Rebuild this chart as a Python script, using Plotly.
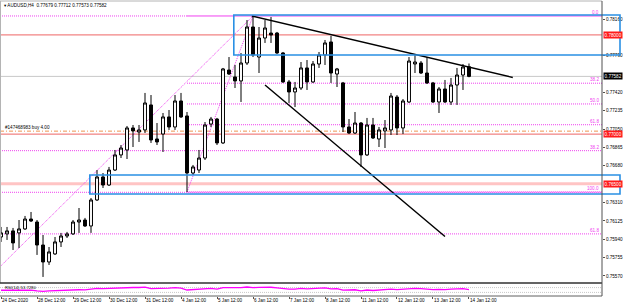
import plotly.graph_objects as go

W, H = 625, 304

# ---------------- data ----------------
bars = list(range(79))
opens = [0.75963,0.75994,0.76024,0.76004,0.76044,0.76144,0.76114,0.75882,0.75711,0.75792,
         0.75913,0.75973,0.75994,0.76114,0.76134,0.76074,0.76336,0.76568,0.76487,0.76638,
         0.76790,0.76840,0.77062,0.77021,0.77042,0.77294,0.76951,0.77001,0.77173,0.77072,
         0.77334,0.77183,0.76608,0.76638,0.76759,0.77102,0.77152,0.76911,0.77646,0.77576,
         0.77536,0.77717,0.78080,0.77777,0.77969,0.78019,0.78019,0.77818,0.77526,0.77425,
         0.77465,0.77667,0.77526,0.77707,0.77798,0.77929,0.77606,0.77516,0.77072,0.77011,
         0.77112,0.76790,0.77092,0.76951,0.77032,0.77042,0.77374,0.77062,0.77324,0.77707,
         0.77717,0.77616,0.77516,0.77324,0.77455,0.77324,0.77495,0.77596,0.77679]
highs = [0.76064,0.76064,0.76054,0.76134,0.76175,0.76215,0.76134,0.75983,0.75862,0.75963,
         0.76004,0.76014,0.76134,0.76255,0.76155,0.76356,0.76638,0.76608,0.76669,0.76840,
         0.76890,0.77082,0.77092,0.77092,0.77415,0.77394,0.77112,0.77213,0.77243,0.77394,
         0.77415,0.77223,0.76689,0.76840,0.77122,0.77173,0.77163,0.77667,0.77777,0.77697,
         0.77818,0.78150,0.78191,0.78080,0.78150,0.78181,0.78030,0.77828,0.77546,0.77526,
         0.77727,0.77747,0.77737,0.77828,0.77949,0.77989,0.77667,0.77526,0.77152,0.77223,
         0.77122,0.77163,0.77163,0.77072,0.77142,0.77415,0.77394,0.77354,0.77777,0.77798,
         0.77737,0.77777,0.77526,0.77475,0.77546,0.77566,0.77667,0.77707,0.77712]
lows = [0.75913,0.75933,0.75832,0.75852,0.76034,0.76114,0.75782,0.75560,0.75681,0.75782,
        0.75862,0.75953,0.75983,0.76004,0.76064,0.76004,0.76326,0.76457,0.76477,0.76628,
        0.76759,0.76749,0.76870,0.76921,0.77011,0.76911,0.76890,0.76820,0.77042,0.77042,
        0.77163,0.76417,0.76588,0.76608,0.76739,0.77072,0.76890,0.76900,0.77596,0.77465,
        0.77324,0.77697,0.77777,0.77616,0.77919,0.77919,0.77808,0.77516,0.77314,0.77273,
        0.77445,0.77445,0.77516,0.77667,0.77697,0.77516,0.77475,0.77021,0.77001,0.77001,
        0.76669,0.76780,0.76951,0.76870,0.76860,0.76991,0.76991,0.77001,0.77314,0.77616,
        0.77606,0.77505,0.77314,0.77213,0.77314,0.77294,0.77294,0.77445,0.77573]
closes = [0.76004,0.76024,0.75903,0.76044,0.76144,0.76124,0.75882,0.75711,0.75812,0.75913,
          0.75973,0.75994,0.76114,0.76134,0.76074,0.76336,0.76568,0.76487,0.76638,0.76790,
          0.76860,0.77062,0.77032,0.77042,0.77314,0.76941,0.76921,0.77173,0.77072,0.77334,
          0.77173,0.76608,0.76669,0.76759,0.77092,0.77152,0.76911,0.77657,0.77606,0.77536,
          0.77717,0.78080,0.77798,0.77969,0.78070,0.77999,0.77818,0.77526,0.77425,0.77465,
          0.77667,0.77526,0.77707,0.77798,0.77919,0.77616,0.77657,0.77072,0.77011,0.77112,
          0.76790,0.77092,0.76961,0.77042,0.77062,0.77384,0.77062,0.77334,0.77737,0.77727,
          0.77616,0.77516,0.77324,0.77455,0.77324,0.77495,0.77596,0.77677,0.77582]
rsi = [48,49,45,47,50,49,42,38,42,45,
       47,48,52,52,51,58,63,61,64,67,
       68,72,71,71,74,62,61,66,65,69,
       66,50,52,55,62,63,58,70,69,67,
       69,75,70,72,74,73,67,60,57,58,
       63,59,63,65,68,60,62,49,48,52,
       42,50,46,49,50,58,53,57,63,64,
       62,58,53,56,53,57,60,62,54]

time_labels = ["24 Dec 2020","28 Dec 12:00","29 Dec 12:00","30 Dec 12:00","31 Dec 12:00",
               "4 Jan 12:00","5 Jan 12:00","6 Jan 12:00","7 Jan 12:00","8 Jan 12:00",
               "11 Jan 12:00","12 Jan 12:00","13 Jan 12:00","14 Jan 12:00"]
time_label_bars = [0,6,12,18,24,30,36,42,48,54,60,66,72,78]

price_ticks = [0.75570,0.75755,0.75940,0.76125,0.76310,0.76680,0.76865,0.77050,
               0.77235,0.77420,0.77790,0.78160]

header = "AUDUSD,H4  0.77679 0.77712 0.77573 0.77582"
bid = 0.77582
round_levels = [0.78000, 0.77000]
support_level = 0.76500
order_price = 0.77030
order_text = "#147468983 buy 4.00"
rsi_text = "RSI(14) 53.7280"

# Fibonacci objects: (low bar, low price, high bar, high price)
fib_levels = [0.0, 38.2, 50.0, 61.8, 100.0]
fib1 = dict(b0=-17.3, p0=0.74636, b1=42, p1=0.78191, labels=[38.2, 61.8])
fib2 = dict(b0=31, p0=0.76417, b1=42, p1=0.78191, labels=[0.0, 38.2, 50.0, 61.8, 100.0])

# trend lines (bar, price)
trend_upper = [(41.8, 0.78191), (85.3, 0.77571)]
trend_lower = [(44.0, 0.77495), (74.0, 0.75967)]

# rectangles (bar start, price top, price bottom)
rect_zones = [(38.8, 0.78201, 0.77798), (14.8, 0.76588, 0.76396)]

# ---------------- layout helpers ----------------
XR = [-0.17, 100.17]
YR = [0.75499, 0.78342]
PLOT_R = 602 / W
FONT = "Liberation Sans, Arial, DejaVu Sans"
FS = 4.6
MAG = "#F040F0"
DOT = "1px,1px"

def py(px):
    return (H - px) / H

fig = go.Figure()
fig.add_trace(go.Candlestick(
    x=bars, open=opens, high=highs, low=lows, close=closes,
    increasing=dict(line=dict(color="black", width=1), fillcolor="white"),
    decreasing=dict(line=dict(color="black", width=1), fillcolor="black"),
    whiskerwidth=0, hoverinfo="skip", showlegend=False, xaxis="x", yaxis="y"))
fig.add_trace(go.Scatter(x=bars, y=rsi, mode="lines",
    line=dict(color="#FF00FF", width=1.3), hoverinfo="skip",
    showlegend=False, xaxis="x2", yaxis="y2"))

shapes = []
ann = []

# horizontal levels
shapes.append(dict(type="line", xref="x domain", yref="y", x0=0, x1=1, y0=bid, y1=bid,
                   line=dict(color="#C8C8C8", width=1), layer="below"))
shapes.append(dict(type="line", xref="x domain", yref="y", x0=0, x1=1,
                   y0=support_level, y1=support_level,
                   line=dict(color="#FFC4C4", width=3), layer="below"))
for lv in round_levels:
    shapes.append(dict(type="line", xref="x domain", yref="y", x0=0, x1=1, y0=lv, y1=lv,
                       line=dict(color="#EE6464", width=1), layer="below"))
shapes.append(dict(type="line", xref="x domain", yref="y", x0=0, x1=1,
                   y0=order_price, y1=order_price,
                   line=dict(color="#EE9450", width=1, dash="4px,2px,1px,2px"), layer="below"))

# fibonacci
for fb, full in ((fib1, True), (fib2, False)):
    rng = fb["p1"] - fb["p0"]
    for lv in fib_levels:
        p = fb["p1"] - rng * lv / 100.0
        if full:
            shapes.append(dict(type="line", xref="x domain", yref="y", x0=0, x1=1, y0=p, y1=p,
                               line=dict(color=MAG, width=1, dash=DOT), layer="below"))
        else:
            shapes.append(dict(type="line", xref="x", yref="y", x0=fb["b0"], x1=XR[1], y0=p, y1=p,
                               line=dict(color=MAG, width=1, dash=DOT), layer="below"))
    for lv in fb["labels"]:
        p = fb["p1"] - rng * lv / 100.0
        ann.append(dict(xref="paper", yref="y", x=600 / W, y=p, xanchor="right", yanchor="bottom",
                        text=f"{lv:.1f}", showarrow=False, font=dict(size=FS, color=MAG, family=FONT),
                        borderpad=0))
    shapes.append(dict(type="line", xref="x", yref="y", x0=fb["b0"], y0=fb["p0"], x1=fb["b1"], y1=fb["p1"],
                       line=dict(color=MAG, width=1, dash=DOT), layer="below"))

# trend lines
for tl in (trend_upper, trend_lower):
    shapes.append(dict(type="line", xref="x", yref="y", x0=tl[0][0], y0=tl[0][1],
                       x1=tl[1][0], y1=tl[1][1], line=dict(color="black", width=1.4)))

# rectangles (extend over the price scale as in the terminal)
def bar_to_paper(b):
    return (b - XR[0]) / (XR[1] - XR[0]) * PLOT_R

def price_to_paper(p):
    y0, y1 = py(283), py(1)
    return y0 + (p - YR[0]) / (YR[1] - YR[0]) * (y1 - y0)

for b, ptop, pbot in rect_zones:
    shapes.append(dict(type="rect", xref="paper", yref="paper",
                       x0=bar_to_paper(b), x1=620 / W,
                       y0=price_to_paper(pbot), y1=price_to_paper(ptop),
                       line=dict(color="#2A90E4", width=1.6), fillcolor="rgba(0,0,0,0)"))

# frame lines
shapes += [
    dict(type="line", xref="paper", yref="paper", x0=0, x1=PLOT_R, y0=py(1), y1=py(1),
         line=dict(color="#B4B4B4", width=1)),
    dict(type="line", xref="paper", yref="paper", x0=0.5 / W, x1=0.5 / W, y0=py(283), y1=py(1),
         line=dict(color="#B4B4B4", width=1)),
    dict(type="line", xref="paper", yref="paper", x0=0, x1=PLOT_R, y0=py(283), y1=py(283),
         line=dict(color="#303030", width=1.3)),
    dict(type="line", xref="paper", yref="paper", x0=0, x1=PLOT_R, y0=py(296), y1=py(296),
         line=dict(color="#606060", width=1)),
    dict(type="line", xref="paper", yref="paper", x0=PLOT_R, x1=PLOT_R, y0=py(296), y1=py(1),
         line=dict(color="#505050", width=1)),
]
# RSI levels
for lv in (30, 70):
    shapes.append(dict(type="line", xref="x2 domain", yref="y2", x0=0, x1=1, y0=lv, y1=lv,
                       line=dict(color="#C8C8C8", width=1, dash=DOT), layer="below"))

# axis value labels
def tag(p, bg):
    return dict(xref="paper", yref="y", x=602.5 / W, y=p, xanchor="left", yanchor="middle",
                text=f"{p:.5f}", showarrow=False, bgcolor=bg, borderpad=0.6,
                font=dict(size=FS, color="white", family=FONT))
for lv in round_levels:
    ann.append(tag(lv, "#FF1A1A"))
ann.append(tag(support_level, "#FF1A1A"))
ann.append(tag(bid, "black"))

# texts
ann.append(dict(xref="paper", yref="paper", x=2 / W, y=py(5.5), xanchor="left", yanchor="middle",
                text="\u25BE " + header, showarrow=False, font=dict(size=FS, color="black", family=FONT)))
ann.append(dict(xref="paper", yref="y", x=4 / W, y=order_price, xanchor="left", yanchor="bottom",
                text=order_text, showarrow=False, borderpad=0,
                font=dict(size=FS, color="black", family=FONT)))
ann.append(dict(xref="paper", yref="paper", x=3 / W, y=py(287), xanchor="left", yanchor="middle",
                text=rsi_text, showarrow=False, font=dict(size=4.2, color="black", family=FONT)))
for b, t in zip(time_label_bars, time_labels):
    ann.append(dict(xref="x2", yref="paper", x=b, y=py(300), xanchor="left", yanchor="middle",
                    xshift=-1, text=t, showarrow=False, font=dict(size=FS, color="black", family=FONT)))

fig.update_layout(
    width=W, height=H, margin=dict(l=0, r=0, t=0, b=0),
    paper_bgcolor="white", plot_bgcolor="white", showlegend=False,
    xaxis=dict(domain=[0, PLOT_R], range=XR, anchor="y", showticklabels=False, showgrid=False,
               zeroline=False, rangeslider=dict(visible=False), fixedrange=True),
    yaxis=dict(domain=[py(283), py(1)], range=YR, side="right", anchor="x",
               tickvals=price_ticks, ticktext=[f"{v:.5f}" for v in price_ticks],
               tickfont=dict(size=FS, color="black", family=FONT), ticks="outside", ticklen=2,
               tickcolor="#505050", showgrid=False, zeroline=False, showline=False),
    xaxis2=dict(domain=[0, PLOT_R], range=XR, anchor="y2", tickvals=time_label_bars,
                showticklabels=False, ticks="outside", ticklen=2, tickcolor="#505050",
                showgrid=False, zeroline=False),
    yaxis2=dict(domain=[py(296), py(284)], range=[0, 100], side="right", anchor="x2",
                showticklabels=False, showgrid=False, zeroline=False),
    shapes=shapes, annotations=ann, boxgap=0.3,
)
fig.write_html("out.html")
